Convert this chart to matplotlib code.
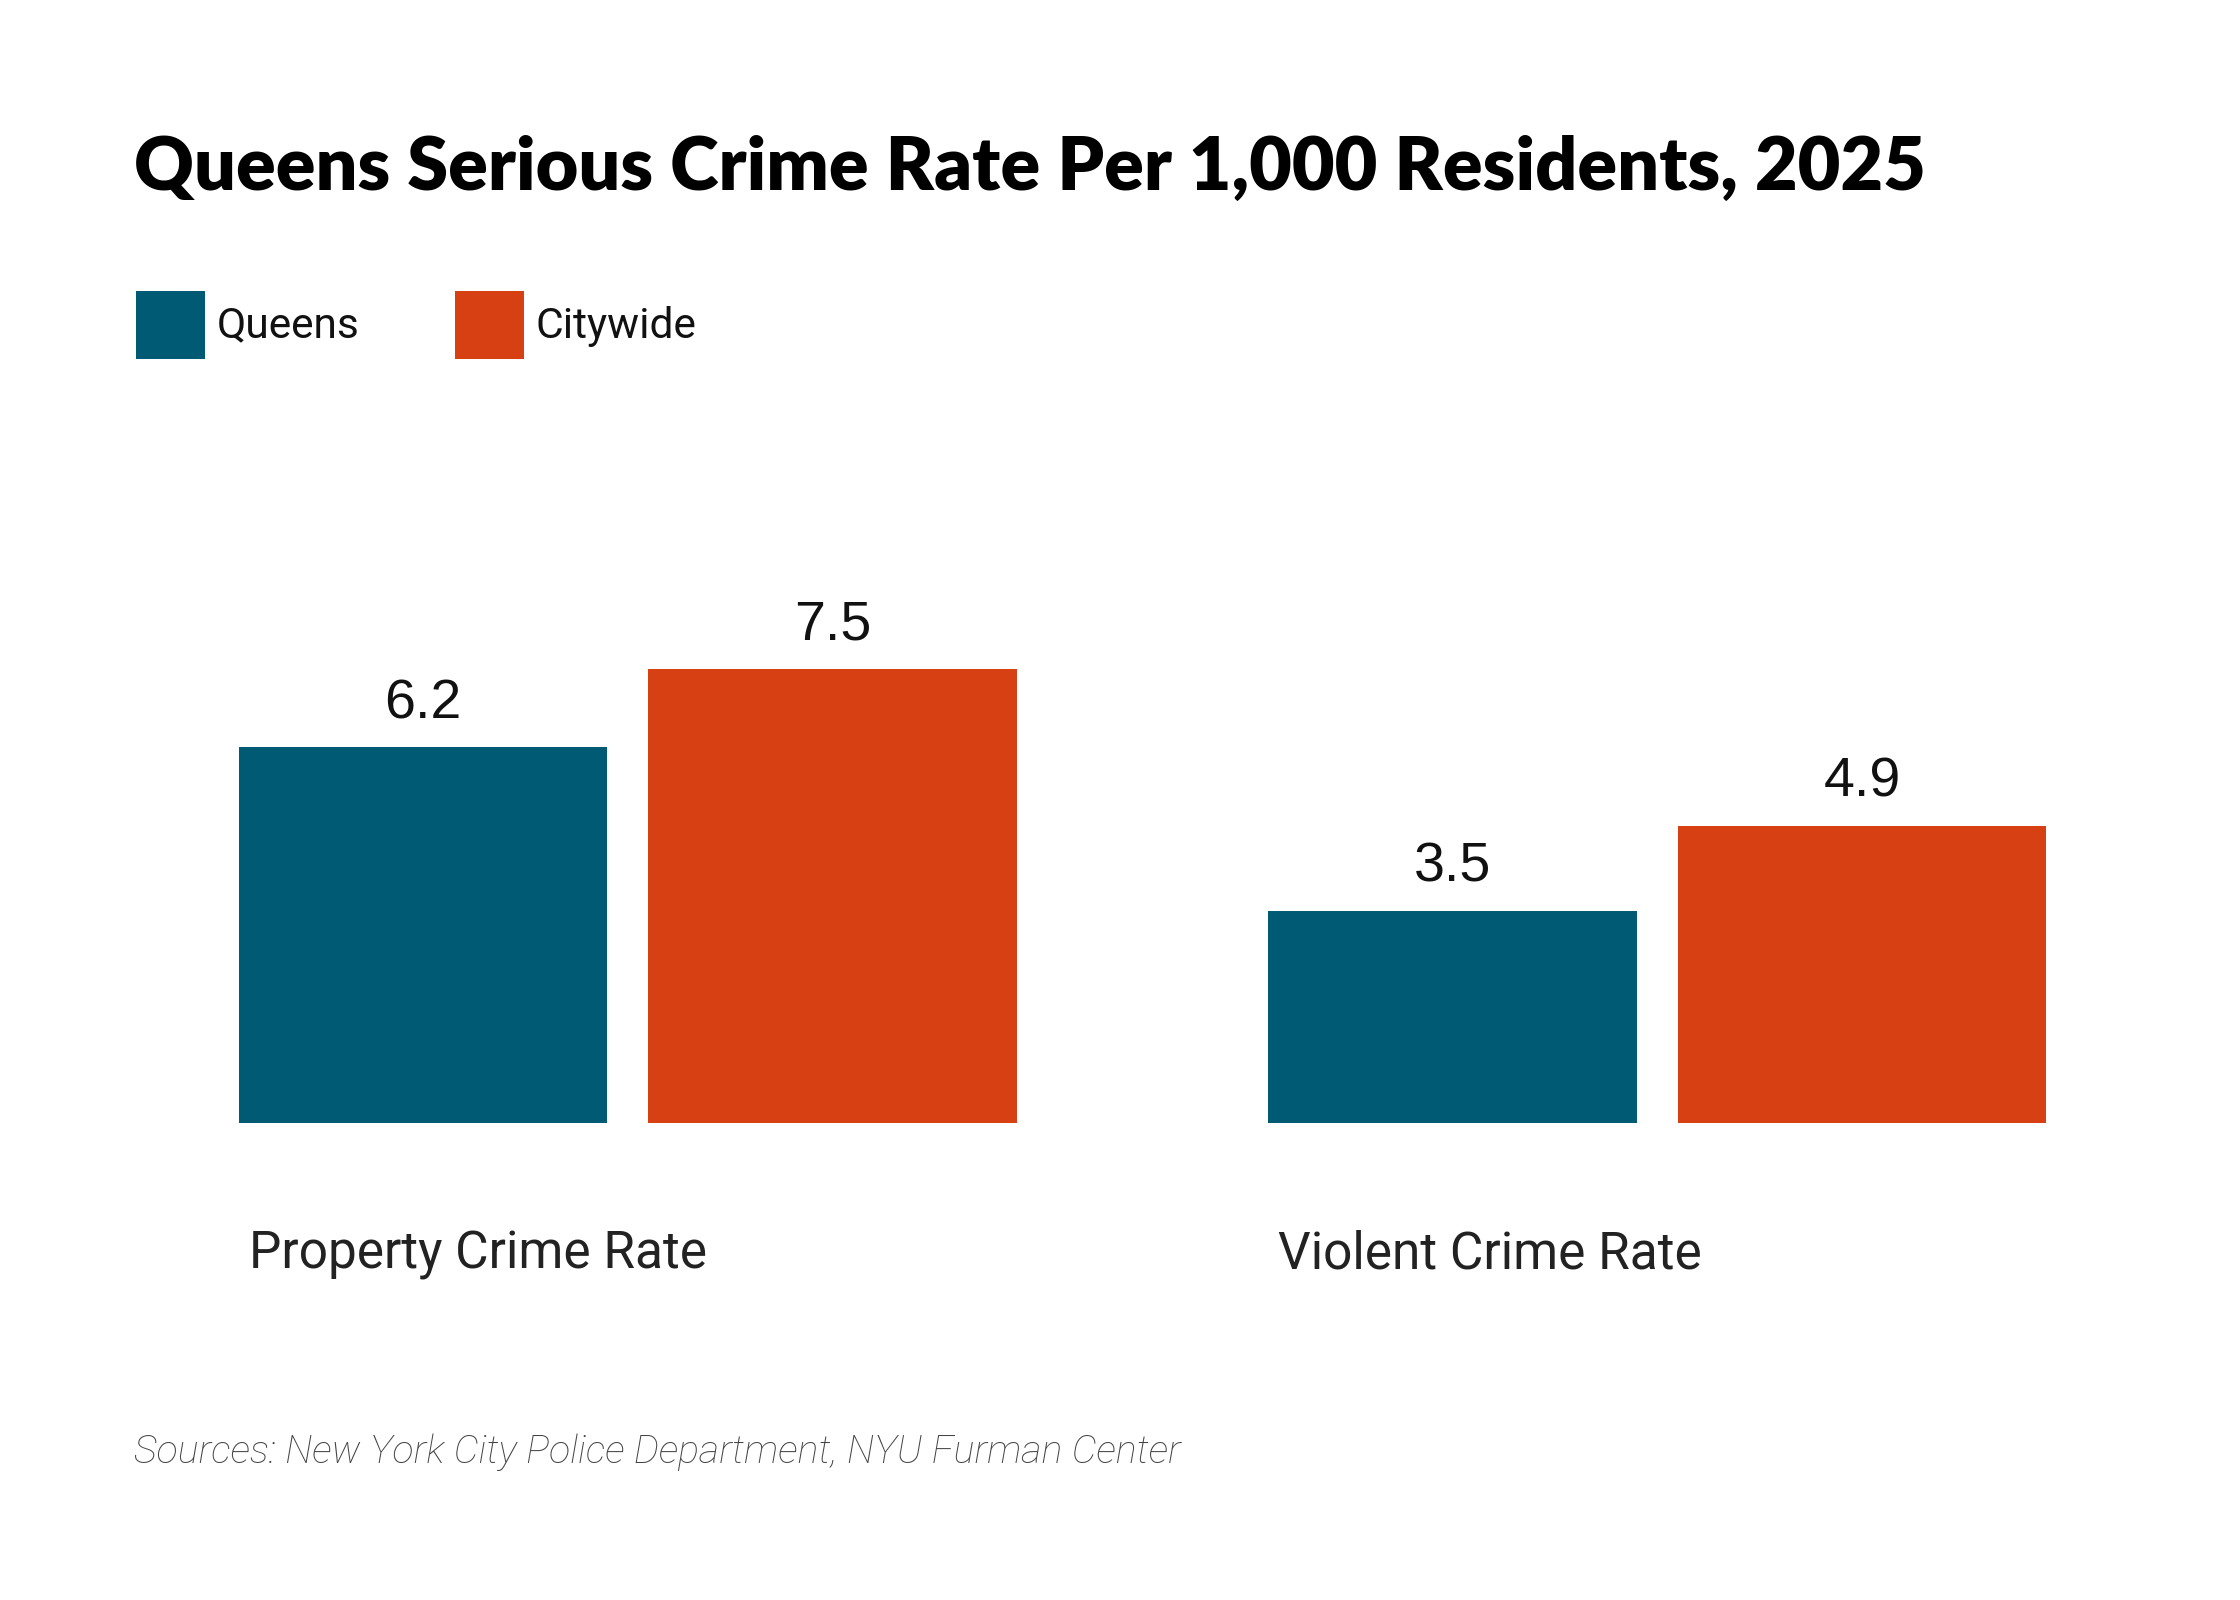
import matplotlib.pyplot as plt
from matplotlib.patches import Rectangle
from matplotlib.transforms import blended_transform_factory

categories = ['Property Crime Rate', 'Violent Crime Rate']
series_names = ['Queens', 'Citywide']
queens = [6.2, 3.5]
citywide = [7.5, 4.9]
colors = ['#005a74', '#d74013']

title = 'Queens Serious Crime Rate Per 1,000 Residents, 2025'
source = 'Sources: New York City Police Department, NYU Furman Center'

W, H = 2240, 1600
fig = plt.figure(figsize=(11.2, 8), dpi=200)
fig.patch.set_facecolor('white')

# axes spans full width; zero line sits at y=1123px from top
ax = fig.add_axes([0, 477 / H, 1, 523 / H])
ax.set_xlim(-0.6099, 1.5663)
ax.set_ylim(0, 523 / 60.6)
ax.axis('off')

bw = 0.358
off = 0.199
xs = list(range(len(categories)))
for vals, name, col, sgn in [(queens, series_names[0], colors[0], -1),
                             (citywide, series_names[1], colors[1], 1)]:
    pos = [x + sgn * off for x in xs]
    bars = ax.bar(pos, vals, width=bw, color=col, linewidth=0)
    for b, v in zip(bars, vals):
        ax.annotate(f'{v:.1f}', (b.get_x() + b.get_width() / 2, v),
                    xytext=(0, 10.5), textcoords='offset points',
                    ha='center', va='baseline', fontsize=20,
                    family='Liberation Sans', color='#111111')

# category labels under each group, left aligned with first bar
trans = blended_transform_factory(ax.transData, fig.transFigure)
for x, lab in zip(xs, categories):
    left = x - off - bw / 2 + 0.0097
    ax.text(left, 0.207, lab, transform=trans,
            fontsize=18.5, family='Roboto', color='#222222',
            ha='left', va='baseline')

# title
fig.text(134 / W, 0.881, title, fontsize=26.5, fontweight='heavy',
         family='Lato', color='#000000', ha='left', va='baseline')

# legend
sq_w, sq_h = 69 / W, 68 / H
for sx, tx, name, col in [(136 / W, 217 / W, series_names[0], colors[0]),
                          (455 / W, 535 / W, series_names[1], colors[1])]:
    fig.patches.append(Rectangle((sx, 1 - 359 / H), sq_w, sq_h,
                                 transform=fig.transFigure, color=col, linewidth=0))
    fig.text(tx, 0.789, name, fontsize=15.3, family='Roboto', color='#111111',
             ha='left', va='baseline')

# source note
fig.text(134 / W, 0.0854, source, fontsize=14.2, family='Roboto',
         fontstyle='italic', fontweight='light', color='#444444',
         ha='left', va='baseline')

fig.savefig('out.png', dpi=200, facecolor='white')
